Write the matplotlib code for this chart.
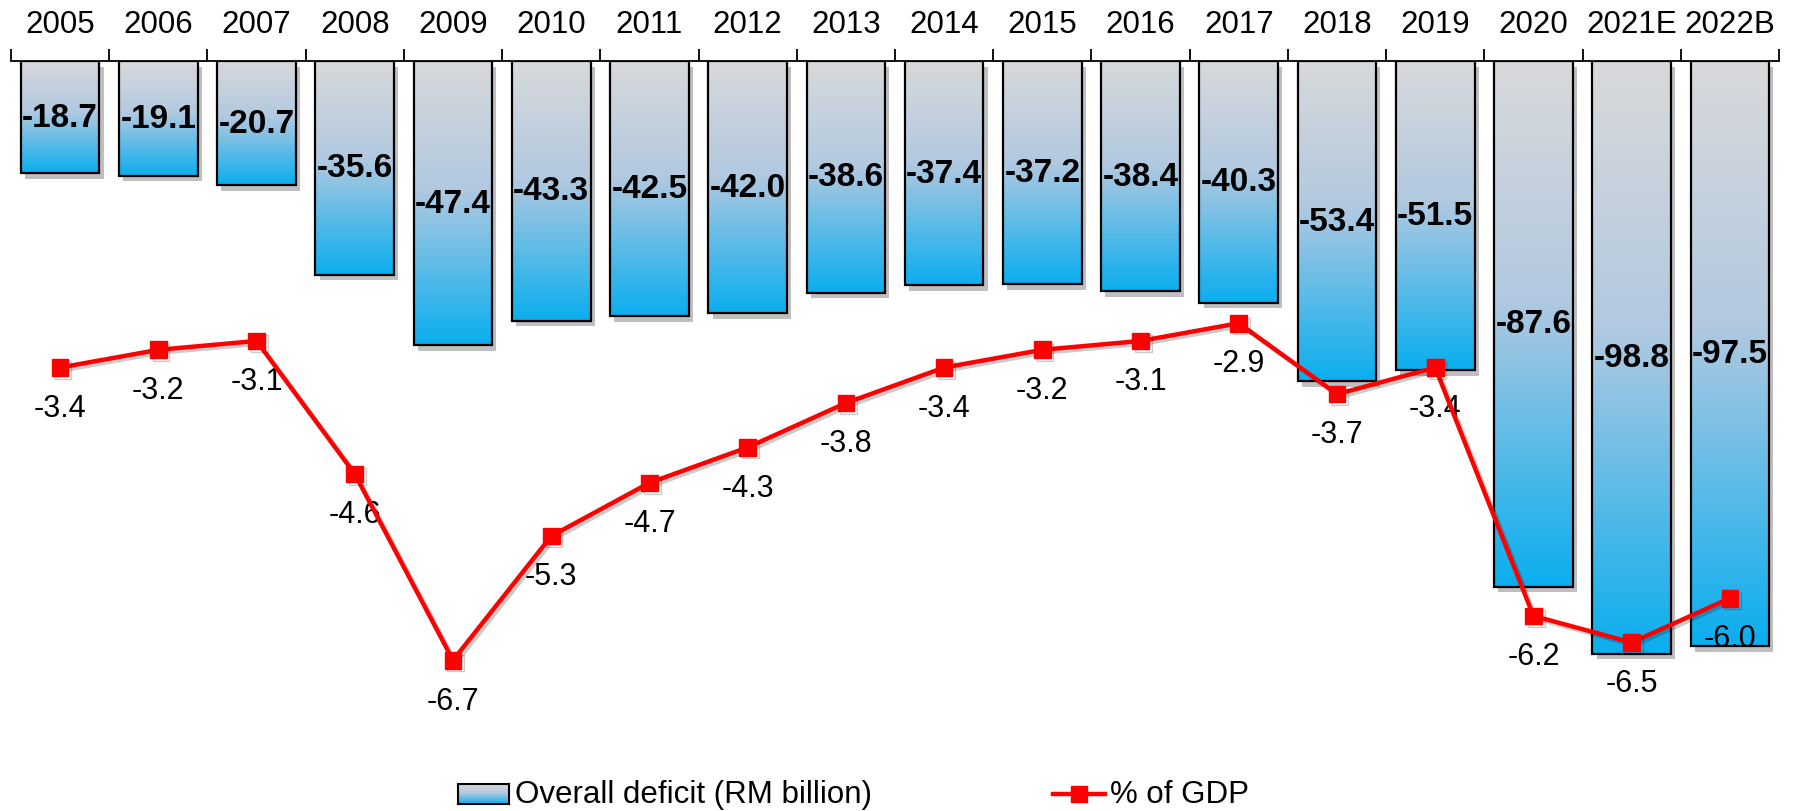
import numpy as np
import matplotlib.pyplot as plt
import matplotlib.patheffects as pe
from matplotlib.colors import LinearSegmentedColormap
from matplotlib.lines import Line2D

years = ["2005", "2006", "2007", "2008", "2009", "2010", "2011", "2012", "2013",
         "2014", "2015", "2016", "2017", "2018", "2019", "2020", "2021E", "2022B"]
deficit = [-18.7, -19.1, -20.7, -35.6, -47.4, -43.3, -42.5, -42.0, -38.6,
           -37.4, -37.2, -38.4, -40.3, -53.4, -51.5, -87.6, -98.8, -97.5]
gdp_pct = [-3.4, -3.2, -3.1, -4.6, -6.7, -5.3, -4.7, -4.3, -3.8,
           -3.4, -3.2, -3.1, -2.9, -3.7, -3.4, -6.2, -6.5, -6.0]

plt.rcParams['font.family'] = ['Liberation Sans', 'DejaVu Sans']

W, H = 1793, 812
fig = plt.figure(figsize=(W / 100, H / 100), dpi=100)
ax = fig.add_axes([11 / W, 1 - 730 / H, 1768 / W, 668 / H])

x = np.arange(len(years))
grad = LinearSegmentedColormap.from_list(
    "deficit", [(0, "#D8D9DB"), (0.45, "#B2C9E0"), (1, "#0AAEEF")])
g = np.linspace(0, 1, 256).reshape(-1, 1)

# white base bars carry the drop shadow, gradient goes on top
bars = ax.bar(x, deficit, width=0.8, facecolor="white", edgecolor="none", zorder=2,
              path_effects=[pe.SimplePatchShadow(offset=(3, -4), shadow_rgbFace="black", alpha=0.25),
                            pe.Normal()])
for b in bars:
    x0, w, h = b.get_x(), b.get_width(), b.get_height()
    ax.imshow(g, cmap=grad, aspect="auto", origin="upper",
              extent=(x0, x0 + w, h, 0), zorder=3)
ax.bar(x, deficit, width=0.8, fill=False, edgecolor="black", linewidth=1.6, zorder=4)

for xi, v in zip(x, deficit):
    ax.text(xi, v / 2, f"{v:.1f}", ha="center", va="center",
            fontsize=24, fontweight="bold", zorder=5)

ax.set_xlim(-0.5, len(years) - 0.5)
ax.set_ylim(-111.33, 0)
ax.xaxis.tick_top()
ax.set_xticks(x)
ax.set_xticklabels(years, fontsize=22.5)
ax.set_xticks(np.arange(-0.5, len(years), 1), minor=True)
ax.tick_params(axis="x", which="major", length=0, pad=16)
ax.tick_params(axis="x", which="minor", length=9, width=1.3, direction="out",
               top=True, bottom=False)
ax.set_yticks([])
for s in ["left", "right", "bottom"]:
    ax.spines[s].set_visible(False)
ax.spines["top"].set_linewidth(1.3)

# % of GDP on its own scale
ax2 = ax.twinx()
ax2.set_ylim(-7.475, 0.056)
ax2.plot(x, gdp_pct, color="red", lw=3.2, marker="s", ms=12, zorder=5,
         path_effects=[pe.SimpleLineShadow(offset=(2, -2), alpha=0.2), pe.Normal()])
for xi, v in zip(x, gdp_pct):
    ax2.annotate(f"{v:.1f}", (xi, v), xytext=(0, -29), textcoords="offset points",
                 ha="center", va="center", fontsize=22)
ax2.set_yticks([])
for s in ax2.spines.values():
    s.set_visible(False)

# legend drawn by hand so the swatch keeps the gradient
sw = fig.add_axes([458 / W, 1 - 805 / H, 51 / W, 20 / H])
sw.imshow(g, cmap=grad, aspect="auto")
sw.set_xticks([])
sw.set_yticks([])
for s in sw.spines.values():
    s.set_linewidth(1.5)
fig.text(515 / W, 1 - 795 / H, "Overall deficit (RM billion)", fontsize=22.5, va="center")
fig.add_artist(Line2D([1053 / W, 1079 / W, 1105 / W], [1 - 795 / H] * 3, color="red", lw=3.2,
                      marker="s", ms=12, markevery=[1], transform=fig.transFigure))
fig.text(1110 / W, 1 - 795 / H, "% of GDP", fontsize=22.5, va="center")

fig.savefig("out.png", dpi=100)
